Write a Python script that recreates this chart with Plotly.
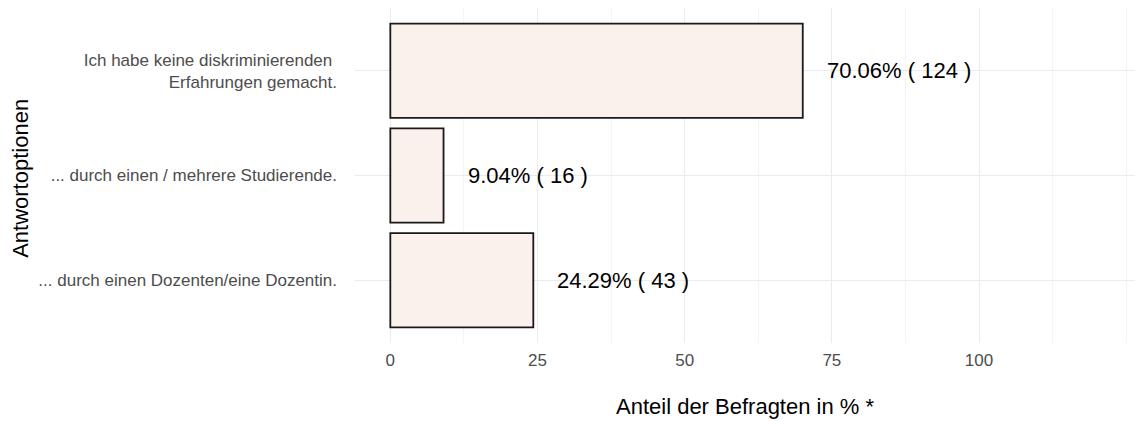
import plotly.graph_objects as go

categories = [
    "... durch einen Dozenten/eine Dozentin.",
    "... durch einen / mehrere Studierende.",
    "Ich habe keine diskriminierenden <br>Erfahrungen gemacht.",
]
percent = [24.29, 9.04, 70.06]
counts = [43, 16, 124]
x_tickvals = [0, 25, 50, 75, 100]
x_ticktext = ["0", "25", "50", "75", "100"]

FONT = "Liberation Sans, Arial, sans-serif"

fig = go.Figure()
fig.add_trace(go.Bar(
    y=categories,
    x=percent,
    orientation="h",
    width=0.9,
    marker=dict(color="#FAF1EC", line=dict(color="#1a1a1a", width=1.8)),
    hoverinfo="skip",
    showlegend=False,
))

annotations = []
for cat, p, n in zip(categories, percent, counts):
    annotations.append(dict(
        x=p, y=cat, xref="x", yref="y",
        text=f"{p:.2f}% ( {n} )",
        showarrow=False, xanchor="left", yanchor="middle",
        xshift=22,
        font=dict(family=FONT, size=22, color="#000000"),
    ))

annotations.append(dict(
    x=0, y=0.49, xref="paper", yref="paper",
    text="Antwortoptionen", textangle=-90, showarrow=False,
    xanchor="center", yanchor="middle", xshift=-334,
    font=dict(family=FONT, size=22, color="#000000"),
))
annotations.append(dict(
    x=0.5, y=0, xref="paper", yref="paper",
    text="Anteil der Befragten in % *", showarrow=False,
    xanchor="center", yanchor="middle", yshift=-63,
    font=dict(family=FONT, size=22, color="#000000"),
))

fig.update_layout(
    width=1139, height=421,
    margin=dict(l=355, r=4, t=8, b=78),
    paper_bgcolor="white", plot_bgcolor="white",
    font=dict(family=FONT),
    bargap=0.1,
    annotations=annotations,
    xaxis=dict(
        range=[-6, 126.5],
        tickmode="array", tickvals=x_tickvals, ticktext=x_ticktext,
        showgrid=True, gridcolor="#EBEBEB", gridwidth=1,
        zeroline=False, showline=False, ticks="",
        ticklabelstandoff=5,
        tickfont=dict(family=FONT, size=17, color="#4D4D4D"),
        minor=dict(tickmode="linear", tick0=0, dtick=12.5,
                   showgrid=True, gridcolor="#F4F4F4", gridwidth=1),
        fixedrange=True,
    ),
    yaxis=dict(
        type="category",
        categoryorder="array", categoryarray=categories,
        range=[-0.6, 2.6],
        showgrid=True, gridcolor="#EBEBEB", gridwidth=1,
        zeroline=False, showline=False, ticks="",
        ticklabelstandoff=17,
        tickfont=dict(family=FONT, size=17, color="#4D4D4D"),
        fixedrange=True,
    ),
)

fig.write_html(
    "out.html",
    config={"displayModeBar": False},
    post_script="document.body.style.margin='0';document.body.style.padding='0';",
)
